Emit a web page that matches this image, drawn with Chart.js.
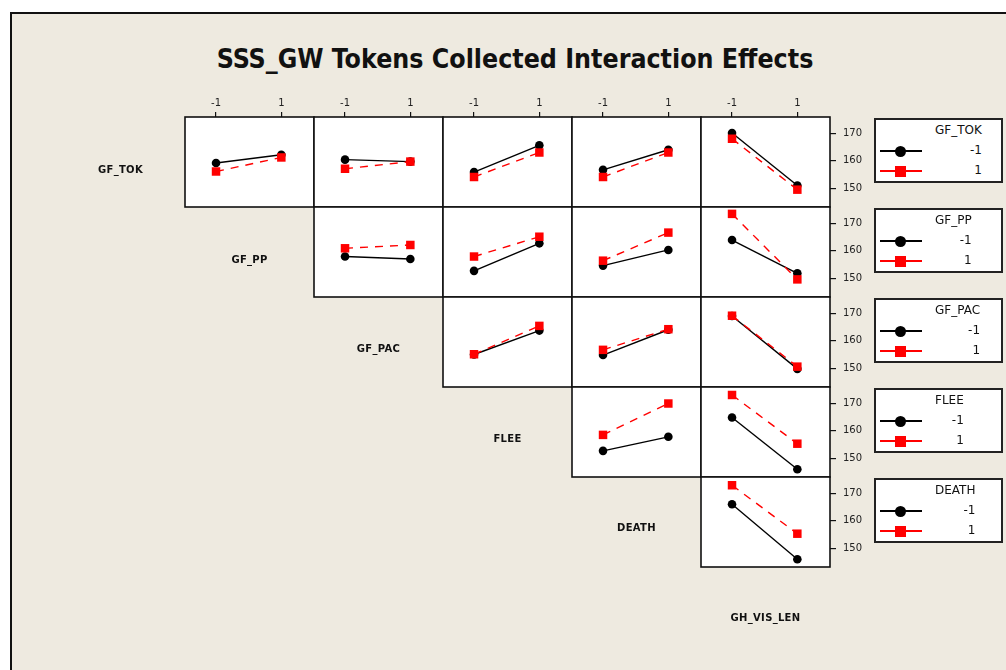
<!DOCTYPE html>
<html>
<head>
<meta charset="utf-8">
<script src="https://cdn.jsdelivr.net/npm/chart.js@4.4.0/dist/chart.umd.min.js"></script>
<style>
  body { margin: 0; background: #fff; width: 1006px; height: 670px; overflow: hidden; position: relative; }
  #frame { position: absolute; left: 10px; top: 12px; width: 1000px; height: 660px;
           background: #eeeae0; border-left: 2px solid #111; border-top: 2px solid #111; }
  #title { position: absolute; left: 0; width: 1030px; top: 43px; text-align: center;
           font: bold 26.5px "Liberation Sans Narrow", "DejaVu Sans Condensed", sans-serif; color: #111; }
  .rowlab { position: absolute; width: 120px; margin-left: -60px; text-align: center;
            font: bold 10px "DejaVu Sans", sans-serif; letter-spacing: 0.3px; color: #111; line-height: 12px; margin-top: -6px; }
  canvas { position: absolute; }
  .leg { position: absolute; left: 874px; width: 129px; height: 65px; box-sizing: border-box;
         background: #fff; border: 2px solid #222; }
  .leg .blk { position: absolute; left: 59px; top: 0; font: 12px "DejaVu Sans", sans-serif; color: #111; line-height: 20px; }
  .leg .blk div.v { text-align: right; }
  .leg .ln { position: absolute; left: 4px; width: 42px; height: 2px; }
  .leg .mk { position: absolute; width: 11px; height: 11px; left: 19px; }
</style>
</head>
<body>
<div id="frame"></div>
<div id="title">SSS_GW Tokens Collected Interaction Effects</div>
<div id="root"></div>
<script>
var factors = ['GF_TOK', 'GF_PP', 'GF_PAC', 'FLEE', 'DEATH', 'GH_VIS_LEN'];
var levels = ['-1', '1'];
var xTicks = [-1, 1];
var yTicks = [150, 160, 170];

// mean response, row factor at -1 (black) / 1 (red); one [x=-1, x=1] pair per later factor
var tokLow    = [[159.2, 162.2], [160.4, 159.7], [155.9, 165.6], [156.7, 164.0], [170.1, 151.0]];
var tokHigh   = [[156.1, 161.2], [157.1, 159.7], [154.1, 163.0], [154.1, 163.0], [168.0, 149.5]];
var ppLow     = [[157.9, 157.0], [152.7, 162.7], [154.6, 160.3], [163.9, 151.8]];
var ppHigh    = [[160.9, 162.1], [157.9, 165.1], [156.4, 166.6], [173.4, 149.6]];
var pacLow    = [[155.0, 163.7], [154.8, 164.0], [169.0, 149.8]];
var pacHigh   = [[155.1, 165.4], [156.7, 164.2], [169.1, 150.6]];
var fleeLow   = [[152.7, 157.8], [164.8, 146.0]];
var fleeHigh  = [[158.5, 169.9], [173.0, 155.3]];
var deathLow  = [[166.0, 146.0]];
var deathHigh = [[172.9, 155.3]];

var lowRows = [tokLow, ppLow, pacLow, fleeLow, deathLow];
var highRows = [tokHigh, ppHigh, pacHigh, fleeHigh, deathHigh];

var left0 = 185, top0 = 117, cw = 129, rh = 90;
var pad = 8, topAxis = 28, rightAxis = 40;
var root = document.getElementById('root');

// white panel with a black frame
var panelBox = {
  id: 'panelBox',
  beforeDraw: function(chart) {
    var a = chart.chartArea, ctx = chart.ctx;
    ctx.save();
    ctx.fillStyle = '#fff';
    ctx.fillRect(a.left, a.top, a.right - a.left, a.bottom - a.top);
    ctx.restore();
  },
  beforeDatasetsDraw: function(chart) {
    var a = chart.chartArea, ctx = chart.ctx;
    ctx.save();
    ctx.strokeStyle = '#111';
    ctx.lineWidth = 1.6;
    ctx.strokeRect(a.left, a.top, a.right - a.left, a.bottom - a.top);
    ctx.restore();
  }
};

function toPoints(pair) {
  return xTicks.map(function(x, i) { return { x: x, y: pair[i] }; });
}

function panel(r, k) {
  var gc = r + k;
  var hasTop = r == 0, hasRight = gc == 4;
  var w = cw + 2 * pad + (hasRight ? rightAxis : 0);
  var h = rh + 2 * pad + (hasTop ? topAxis : 0);
  var cv = document.createElement('canvas');
  cv.width = w; cv.height = h;
  cv.style.left = (left0 + gc * cw - pad) + 'px';
  cv.style.top = (top0 + r * rh - pad - (hasTop ? topAxis : 0)) + 'px';
  cv.style.width = w + 'px'; cv.style.height = h + 'px';
  root.appendChild(cv);

  var tickFont = { family: 'DejaVu Sans', size: 10 };
  new Chart(cv.getContext('2d'), {
    type: 'line',
    data: {
      datasets: [{
        label: levels[1],
        data: toPoints(highRows[r][k]),
        borderColor: '#ff0000',
        borderWidth: 1.4,
        borderDash: [8, 7],
        pointStyle: 'rect',
        pointRadius: 6,
        pointBackgroundColor: '#ff0000',
        pointBorderWidth: 0,
        order: 0
      }, {
        label: levels[0],
        data: toPoints(lowRows[r][k]),
        borderColor: '#000',
        borderWidth: 1.4,
        pointStyle: 'circle',
        pointRadius: 4.3,
        pointBackgroundColor: '#000',
        pointBorderWidth: 0,
        order: 1
      }]
    },
    options: {
      responsive: false,
      animation: false,
      clip: false,
      layout: { padding: pad },
      plugins: { legend: { display: false }, tooltip: { enabled: false } },
      scales: {
        x: {
          type: 'linear', position: 'top', min: -1.95, max: 2.0,
          display: hasTop,
          afterBuildTicks: function(s) { s.ticks = xTicks.map(function(v) { return { value: v }; }); },
          afterFit: function(s) {
            if (hasTop) s.height = topAxis;
            s.paddingLeft = 0; s.paddingRight = 0;
          },
          grid: { drawOnChartArea: false, color: '#111', tickLength: 5, lineWidth: 1.2 },
          border: { display: false },
          ticks: { font: tickFont, color: '#222', padding: 3, maxRotation: 0 }
        },
        y: {
          type: 'linear', position: 'right', min: 143.2, max: 175.9,
          display: hasRight,
          afterBuildTicks: function(s) { s.ticks = yTicks.map(function(v) { return { value: v }; }); },
          afterFit: function(s) {
            if (hasRight) s.width = rightAxis;
            s.paddingTop = 0; s.paddingBottom = 0;
          },
          grid: { drawOnChartArea: false, color: '#111', tickLength: 6, lineWidth: 1.2 },
          border: { display: false },
          ticks: { font: tickFont, color: '#222', padding: 7 }
        }
      }
    },
    plugins: [panelBox]
  });
}

for (var r = 0; r < 5; r++) {
  for (var k = 0; k < lowRows[r].length; k++) panel(r, k);
}

// factor names down the diagonal
factors.forEach(function(f, i) {
  var d = document.createElement('div');
  d.className = 'rowlab';
  d.textContent = f;
  d.style.left = (left0 + (i - 1) * cw + cw / 2) + 'px';
  d.style.top = (170 + i * 89.5) + 'px';
  root.appendChild(d);
});

// one legend box per row factor
for (var r = 0; r < 5; r++) {
  var box = document.createElement('div');
  box.className = 'leg';
  box.style.top = (top0 + r * rh + 1) + 'px';
  box.innerHTML =
    '<div class="ln" style="top:30px;background:#000"></div>' +
    '<div class="mk" style="top:25.5px;border-radius:50%;background:#000"></div>' +
    '<div class="ln" style="top:50px;background:#f00"></div>' +
    '<div class="mk" style="top:45.5px;background:#f00"></div>' +
    '<div class="blk"><div>' + factors[r] + '</div><div class="v">' + levels[0] +
    '</div><div class="v">' + levels[1] + '</div></div>';
  root.appendChild(box);
}
</script>
</body>
</html>
